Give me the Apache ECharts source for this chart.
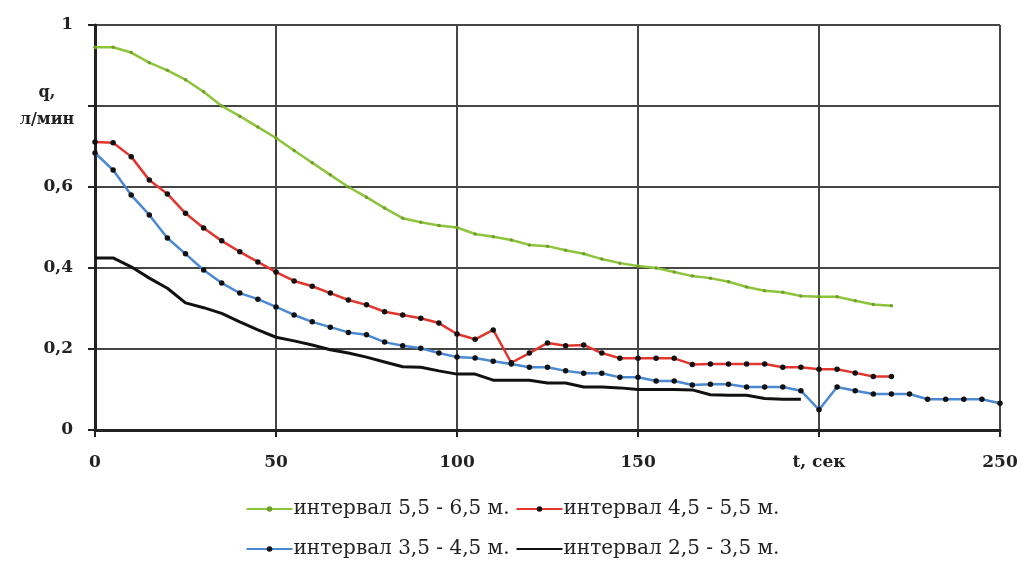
<!DOCTYPE html>
<html>
<head>
<meta charset="utf-8">
<script src="https://cdn.jsdelivr.net/npm/echarts@6/dist/echarts.min.js"></script>
<style>
html,body{margin:0;padding:0;background:#fff;}
#chart{width:1025px;height:564px;}
</style>
</head>
<body>
<div id="chart"></div>
<script>
// time, seconds
const tSec = [0,5,10,15,20,25,30,35,40,45,50,55,60,65,70,75,80,85,90,95,100,105,110,115,120,125,130,135,140,145,150,155,160,165,170,175,180,185,190,195,200,205,210,215,220,225,230,235,240,245,250];

const seriesNames = ['интервал 5,5 - 6,5 м.', 'интервал 4,5 - 5,5 м.', 'интервал 3,5 - 4,5 м.', 'интервал 2,5 - 3,5 м.'];

// q, л/мин
const q55_65 = [0.945,0.945,0.932,0.907,0.888,0.865,0.835,0.80,0.775,0.748,0.721,0.69,0.66,0.63,0.60,0.575,0.548,0.523,0.513,0.505,0.50,0.484,0.477,0.469,0.457,0.454,0.444,0.435,0.422,0.412,0.405,0.40,0.39,0.38,0.375,0.366,0.353,0.344,0.34,0.331,0.329,0.329,0.319,0.31,0.307];
const q45_55 = [0.711,0.709,0.675,0.617,0.583,0.535,0.499,0.467,0.44,0.415,0.39,0.368,0.355,0.338,0.321,0.309,0.292,0.284,0.276,0.264,0.237,0.224,0.247,0.166,0.19,0.215,0.208,0.21,0.19,0.177,0.177,0.177,0.177,0.162,0.163,0.163,0.163,0.163,0.155,0.155,0.15,0.15,0.141,0.132,0.132];
const q35_45 = [0.684,0.642,0.58,0.531,0.474,0.435,0.395,0.363,0.338,0.323,0.304,0.284,0.267,0.254,0.241,0.235,0.217,0.208,0.202,0.19,0.18,0.178,0.17,0.163,0.155,0.155,0.146,0.14,0.14,0.13,0.13,0.121,0.121,0.111,0.113,0.113,0.106,0.106,0.106,0.097,0.05,0.106,0.097,0.089,0.089,0.089,0.076,0.076,0.076,0.076,0.066];
const q25_35 = [0.425,0.425,0.403,0.375,0.35,0.314,0.302,0.288,0.267,0.247,0.229,0.22,0.21,0.198,0.19,0.18,0.168,0.156,0.155,0.146,0.138,0.138,0.123,0.123,0.123,0.116,0.116,0.106,0.106,0.104,0.10,0.10,0.10,0.099,0.087,0.086,0.086,0.078,0.076,0.076];

const xTickLabels = {0:'0',50:'50',100:'100',150:'150',200:'t, сек',250:'250'};
const yTickLabels = {0:'0',0.2:'0,2',0.4:'0,4',0.6:'0,6',0.8:'q,\nл/мин',1:'1'};

function pairs(vals){ return vals.map((v,i)=>[tSec[i], v]); }

const FONT = 'DejaVu Serif';
const chart = echarts.init(document.getElementById('chart'), null, {renderer:'canvas'});

const legendCommon = {
  left: 'center', itemWidth: 46, itemHeight: 7, itemGap: 6,
  textStyle: {fontFamily: FONT, fontSize: 20, color: '#222', padding: [0, 0, 0, -4]}
};

const option = {
  animation: false,
  backgroundColor: '#ffffff',
  grid: {left: 95, right: 25, top: 25, bottom: 134, containLabel: false},
  xAxis: {
    type: 'value', min: 0, max: 250, interval: 50,
    axisLine: {show: true, onZero: false, lineStyle: {color: '#222', width: 3}},
    axisTick: {show: true, length: 7, lineStyle: {color: '#222', width: 2}},
    splitLine: {show: true, lineStyle: {color: '#454545', width: 2}},
    axisLabel: {
      margin: 24, color: '#222', fontFamily: FONT, fontWeight: 'bold', fontSize: 17,
      formatter: v => xTickLabels[v] !== undefined ? xTickLabels[v] : ''
    }
  },
  yAxis: {
    type: 'value', min: 0, max: 1, interval: 0.2,
    axisLine: {show: true, lineStyle: {color: '#222', width: 3}},
    axisTick: {show: true, length: 7, lineStyle: {color: '#222', width: 2}},
    splitLine: {show: true, lineStyle: {color: '#454545', width: 2}},
    axisLabel: {
      margin: 12, color: '#222', fontFamily: FONT, fontWeight: 'bold', fontSize: 17,
      formatter: v => {
        const k = Math.round(v*10)/10;
        const s = yTickLabels[k];
        if (s === undefined) return '';
        if (k === 0.8) return '{q|q,}\n{q|л/мин}';
        return '{n|' + s + '}';
      },
      rich: {
        n: {fontFamily: FONT, fontWeight: 'bold', fontSize: 17, color: '#222', padding: [0, 10, 0, 0]},
        q: {fontFamily: FONT, fontWeight: 'bold', fontSize: 16, color: '#222', width: 72, align: 'center', lineHeight: 27}
      }
    }
  },
  legend: [
    Object.assign({data: [seriesNames[0], seriesNames[1]], top: 494}, legendCommon),
    Object.assign({data: [seriesNames[2], seriesNames[3]], top: 534}, legendCommon)
  ],
  series: [
    {
      name: seriesNames[0], type: 'line', data: pairs(q55_65),
      symbol: 'circle', symbolSize: 3.5, showSymbol: true,
      lineStyle: {color: '#8cc43c', width: 2.5},
      itemStyle: {color: '#6f9e2a'}
    },
    {
      name: seriesNames[1], type: 'line', data: pairs(q45_55),
      symbol: 'circle', symbolSize: 5.5,
      lineStyle: {color: '#e2352e', width: 2.5},
      itemStyle: {color: '#111'}
    },
    {
      name: seriesNames[3], type: 'line', data: pairs(q25_35),
      symbol: 'none',
      lineStyle: {color: '#111', width: 3},
      itemStyle: {color: 'rgba(0,0,0,0)', borderWidth: 0}
    },
    {
      name: seriesNames[2], type: 'line', data: pairs(q35_45),
      symbol: 'circle', symbolSize: 5.5,
      lineStyle: {color: '#4a88d2', width: 2.5},
      itemStyle: {color: '#111'}
    }
  ]
};
chart.setOption(option);
</script>
</body>
</html>
